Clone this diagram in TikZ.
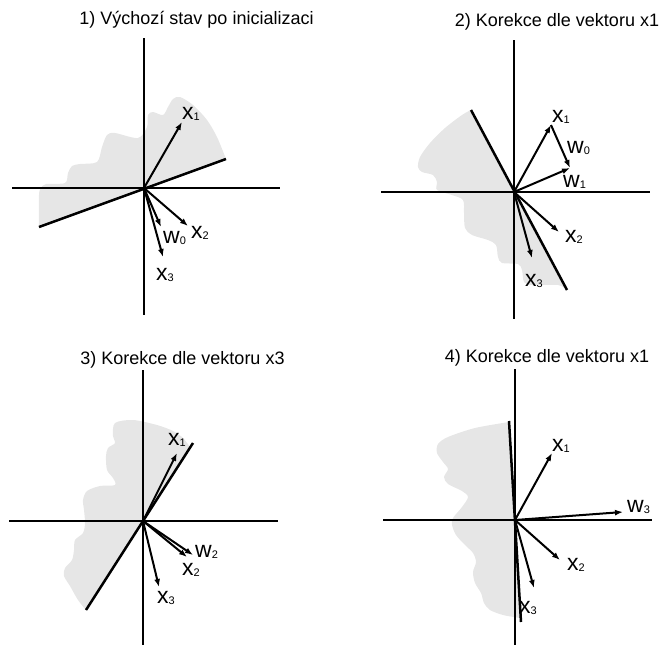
\documentclass[tikz,border=0pt]{standalone}
\usepackage{fontspec}
\setmainfont{Liberation Sans}
\usetikzlibrary{arrows.meta}
\definecolor{regGray}{RGB}{230,230,230}
\newcommand{\vlab}[2]{#1\raisebox{-1pt}{\fontsize{11}{11}\selectfont #2}}

\begin{document}
\begin{tikzpicture}[x=1pt,y=-1pt,
    axis/.style={line width=2.5pt},
    sepline/.style={line width=2.5pt},
    vec/.style={-{Latex[length=8pt,width=6pt]},line width=2pt},
    region/.style={fill=regGray,draw=none},
    ttl/.style={font=\fontsize{18}{21}\selectfont,anchor=base,inner sep=0pt},
    lab/.style={font=\fontsize{23}{24}\selectfont,anchor=base west,inner sep=0pt}]
  \useasboundingbox (0,0) rectangle (664,646);

  % 1) initial state
  \node[ttl] (t1) at (196.5,24) {1) Výchozí stav po inicializaci};
  \fill[region] plot[smooth,tension=0.5] coordinates {(39,227) (39,195) (41,188) (46,184) (65,183) (68,173) (72,166) (80,164) (97,162) (102,147) (107,135) (115,133) (138,138) (147,127) (148,115) (153,112) (163,115) (168,107) (173,99) (180,97) (193,105) (207,120) (217,137) (226,159)} -- cycle;
  \coordinate (o1) at (144,188);
  \draw[axis] (144,38) -- (144,315);
  \draw[axis] (12,188) -- (280,188);
  \draw[sepline] (39,227) -- (226,159);
  \coordinate (a1x1) at (182,122);
  \coordinate (a1x2) at (188,226);
  \coordinate (a1w0) at (161,227);
  \coordinate (a1x3) at (163,257);
  \draw[vec] (o1) -- (a1x1);
  \draw[vec] (o1) -- (a1x2);
  \draw[vec] (o1) -- (a1w0);
  \draw[vec] (o1) -- (a1x3);
  \node[lab] (l1x1) at (182,119) {\vlab{x}{1}};
  \node[lab] (l1x2) at (191,238) {\vlab{x}{2}};
  \node[lab] (l1w0) at (163,243) {\vlab{w}{0}};
  \node[lab] (l1x3) at (156,280) {\vlab{x}{3}};

  % 2) correction by x1
  \node[ttl] (t2) at (557,26) {2) Korekce dle vektoru x1};
  \fill[region] plot[smooth,tension=0.5] coordinates {(471,110) (462,115) (445,128) (430,143) (420,157) (418,167) (422,172) (433,175) (437,182) (437,190) (452,195) (463,200) (464,213) (465,228) (472,235) (488,240) (496,245) (498,257) (502,263) (518,264) (522,270) (524,282) (532,285) (558,285) (567,290)} -- cycle;
  \coordinate (o2) at (514,192);
  \draw[axis] (514,40) -- (514,319);
  \draw[axis] (381,192) -- (650,192);
  \draw[sepline] (471,110) -- (567,290);
  \coordinate (a2x1) at (551,125);
  \coordinate (a2w1) at (570,168);
  \coordinate (a2x2) at (559,232);
  \coordinate (a2x3) at (532,258);
  \draw[vec] (o2) -- (a2x1);
  \draw[vec] (a2x1) -- (a2w1);
  \draw[vec] (o2) -- (a2w1);
  \draw[vec] (o2) -- (a2x2);
  \draw[vec] (o2) -- (a2x3);
  \node[lab] (l2x1) at (552,122) {\vlab{x}{1}};
  \node[lab] (l2w0) at (567,153) {\vlab{w}{0}};
  \node[lab] (l2w1) at (563,187) {\vlab{w}{1}};
  \node[lab] (l2x2) at (565,242) {\vlab{x}{2}};
  \node[lab] (l2x3) at (525,286) {\vlab{x}{3}};

  % 3) correction by x3
  \node[ttl] (t3) at (182.5,364) {3) Korekce dle vektoru x3};
  \fill[region] plot[smooth,tension=0.5] coordinates {(86,610) (78,600) (70,586) (64,576) (65,568) (72,560) (74,550) (75,540) (83,533) (85,523) (84,510) (83,500) (87,491) (100,486) (115,485) (113,478) (107,470) (106,456) (108,448) (115,443) (113,436) (115,423) (133,420) (157,425) (173,431) (183,438) (190,447)} -- cycle;
  \coordinate (o3) at (143,521);
  \draw[axis] (143,370) -- (143,645);
  \draw[axis] (9,521) -- (278,521);
  \draw[sepline] (86,610) -- (193,443);
  \coordinate (a3x1) at (177,453);
  \coordinate (a3w2) at (193,555);
  \coordinate (a3x2) at (187,557);
  \coordinate (a3x3) at (159,587);
  \draw[vec] (o3) -- (a3x1);
  \draw[vec] (o3) -- (a3w2);
  \draw[vec] (o3) -- (a3x2);
  \draw[vec] (o3) -- (a3x3);
  \node[lab] (l3x1) at (168,445) {\vlab{x}{1}};
  \node[lab] (l3w2) at (195,557) {\vlab{w}{2}};
  \node[lab] (l3x2) at (182,575) {\vlab{x}{2}};
  \node[lab] (l3x3) at (157,603) {\vlab{x}{3}};

  % 4) correction by x1
  \node[ttl] (t4) at (547,362) {4) Korekce dle vektoru x1};
  \fill[region] plot[smooth,tension=0.5] coordinates {(509,422) (475,428) (448,437) (438,444) (437,453) (443,462) (448,469) (444,477) (448,484) (462,491) (468,497) (462,507) (453,518) (452,525) (456,535) (465,545) (473,553) (476,562) (473,572) (475,583) (481,593) (484,603) (490,610) (503,615) (520,618)} -- cycle;
  \coordinate (o4) at (515,520);
  \draw[axis] (515,369) -- (515,645);
  \draw[axis] (383,520) -- (652,520);
  \draw[sepline] (509,421) -- (521,622);
  \coordinate (a4x1) at (552,453);
  \coordinate (a4w3) at (623,512);
  \coordinate (a4x2) at (560,560);
  \coordinate (a4x3) at (534,588);
  \draw[vec] (o4) -- (a4x1);
  \draw[vec] (o4) -- (a4w3);
  \draw[vec] (o4) -- (a4x2);
  \draw[vec] (o4) -- (a4x3);
  \node[lab] (l4x1) at (552,451) {\vlab{x}{1}};
  \node[lab] (l4w3) at (627,512) {\vlab{w}{3}};
  \node[lab] (l4x2) at (567,570) {\vlab{x}{2}};
  \node[lab] (l4x3) at (519,613) {\vlab{x}{3}};
\end{tikzpicture}
\end{document}
